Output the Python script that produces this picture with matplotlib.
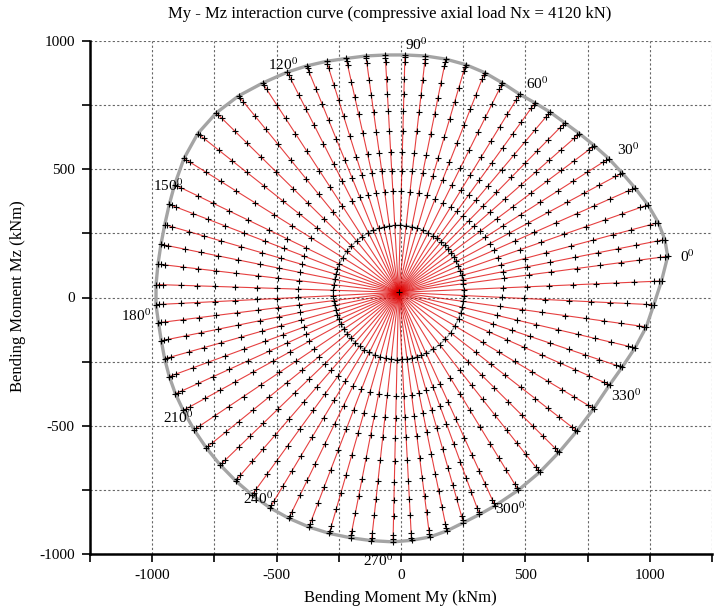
import numpy as np
import matplotlib
matplotlib.use("Agg")
from matplotlib import pyplot as plt

plt.rcParams['font.family'] = ['Liberation Serif', 'DejaVu Serif']
plt.rcParams['mathtext.fontset'] = 'stix'

# neutral axis angle of each path (deg)
na_angles = list(range(0, 360, 5))
# end point of each path on the failure surface, seen from the path origin
end_dir = [7.4, 10.9, 14.6, 18.8, 23.2, 27.4, 31.7, 36.0, 40.4, 44.7, 49.1, 53.4,
           57.8, 62.9, 68.0, 73.1, 78.2, 83.3, 88.4, 93.3, 98.1, 103.0, 107.8, 112.7,
           117.5, 123.8, 130.0, 136.3, 142.5, 148.8, 155.0, 159.6, 164.3, 168.9, 173.5, 178.2,
           182.8, 187.0, 191.2, 195.4, 199.6, 203.8, 208.0, 213.1, 218.1, 223.2, 228.3, 233.3,
           238.4, 243.4, 248.5, 253.5, 258.6, 263.6, 268.7, 273.1, 277.5, 281.8, 286.2, 290.6,
           295.0, 302.0, 309.0, 316.0, 323.0, 330.0, 337.0, 342.0, 347.2, 352.3, 357.3, 362.4]
end_r = [1091, 1090, 1079, 1059, 1034, 1012, 993, 973, 955, 940, 930, 920,
         913, 917, 924, 928, 929, 928, 926, 927, 931, 936, 946, 957,
         968, 982, 1000, 1013, 1017, 1008, 993, 983, 976, 973, 973, 975,
         976, 972, 972, 975, 978, 980, 980, 981, 982, 983, 984, 985,
         986, 985, 983, 980, 976, 974, 973, 968, 962, 950, 935, 925,
         918, 909, 902, 897, 898, 906, 922, 945, 975, 1005, 1027, 1058]
origin_my, origin_mz = -10, 20
ring_r = 262
# where the + marks sit between the inner ring (0) and the end point (1)
mark_t = [0, 0.2, 0.32, 0.43, 0.555, 0.67, 0.77, 0.86, 0.96, 0.985, 1.0]

label_angles = [0, 30, 60, 90, 120, 150, 180, 210, 240, 270, 300, 330]
label_off = {0: (81, 0), 30: (77, 35), 60: (73, 41), 90: (44, 38), 120: (-17, 28),
             150: (-26, -4), 180: (-79, -42), 210: (-21, -27), 240: (-47, 34),
             270: (-60, -74), 300: (60, -13), 330: (65, -41)}

fig = plt.figure(figsize=(7.17, 6.11), dpi=100)
ax = fig.add_axes([90 / 717, 1 - 554 / 611, 622 / 717, 513 / 611])

ends_x, ends_y = [], []
ring_x, ring_y = [], []
for i, a in enumerate(na_angles):
    d = np.radians(end_dir[i])
    r = ring_r + np.array(mark_t) * (end_r[i] - ring_r)
    px = origin_my + r * np.cos(d)
    py = origin_mz + r * np.sin(d)
    ax.plot(np.r_[origin_my, px], np.r_[origin_mz, py], color='#dd0000', lw=0.8,
            alpha=0.75, zorder=2)
    ax.plot(px, py, '+', color='black', ms=5, mew=0.8, zorder=4)
    ends_x.append(px[-1]); ends_y.append(py[-1])
    ring_x.append(px[0]); ring_y.append(py[0])

ax.plot(ends_x + ends_x[:1], ends_y + ends_y[:1], color='#a4a4a4', lw=2.4, zorder=3)
ax.plot(ring_x + ring_x[:1], ring_y + ring_y[:1], color='#888888', lw=0.8, zorder=3)
ax.plot(origin_my, origin_mz, '+', color='black', ms=5, mew=0.8, zorder=5)

for a in label_angles:
    i = na_angles.index(a)
    ox, oy = label_off[a]
    ax.text(ends_x[i] + ox, ends_y[i] + oy, f'{a}$^0$', fontsize=11,
            ha='center', va='center', zorder=6, clip_on=False)

ax.set_xlim(-1250, 1250)
ax.set_ylim(-1000, 1000)
xt = np.arange(-1250, 1251, 250)
yt = np.arange(-1000, 1001, 250)
ax.set_xticks(xt)
ax.set_yticks(yt)
ax.set_xticklabels([str(v) if v % 500 == 0 else '' for v in xt])
ax.set_yticklabels([str(v) if v % 500 == 0 else '' for v in yt])
ax.grid(True, ls=(0, (2, 2)), color='#666666', lw=0.8, zorder=1)
ax.set_axisbelow(True)
for s in ['top', 'right']:
    ax.spines[s].set_visible(False)
for s in ['left', 'bottom']:
    ax.spines[s].set_linewidth(1.8)
ax.tick_params(direction='out', length=6, width=1.2, labelsize=11, pad=5)

fig.text(390 / 717, 1 - 14 / 611, 'My - Mz interaction curve (compressive axial load Nx = 4120 kN)',
         ha='center', va='center', fontsize=12)
fig.text(400 / 717, 1 - 598 / 611, 'Bending Moment My (kNm)', ha='center', va='center', fontsize=12)
fig.text(18 / 717, 1 - 296 / 611, 'Bending Moment Mz (kNm)', ha='center', va='center',
         fontsize=12, rotation=90)

fig.savefig('out.png', dpi=100)
